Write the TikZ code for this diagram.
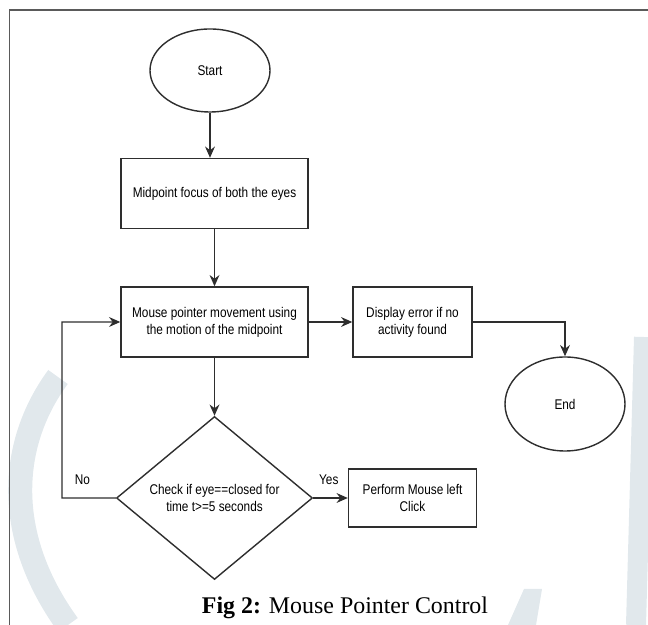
\documentclass[tikz,border=0pt]{standalone}
\usepackage{fontspec}
\setmainfont{Liberation Serif}
\newfontfamily\chartfont{Liberation Sans}[FakeStretch=0.84]
\usetikzlibrary{shapes.geometric,arrows.meta}

\definecolor{linegray}{HTML}{2E2E2E}
\definecolor{framegray}{HTML}{5A5A5A}
\definecolor{markgray}{HTML}{E1E8EC}

\tikzset{
    terminal/.style={ellipse, draw=linegray, line width=1pt, minimum width=3cm, inner sep=0pt, font=\chartfont\fontsize{10}{12}\selectfont},
    process/.style={rectangle, draw=linegray, line width=1pt, align=center, minimum height=1.75cm, inner sep=2pt, font=\chartfont\fontsize{10}{12}\selectfont},
    decision/.style={diamond, draw=linegray, line width=1pt, align=center, aspect=1.2, minimum width=4.9cm, minimum height=4.075cm, inner sep=0pt, font=\chartfont\fontsize{10}{12}\selectfont},
    flow/.style={draw=linegray, line width=1pt, -{Stealth[length=8pt,width=7pt]}},
    label/.style={font=\chartfont\fontsize{10}{12}\selectfont}
}

\begin{document}
\begin{tikzpicture}[node distance=2cm]
                \useasboundingbox (0,0) rectangle (16.2,15.625);

                % Watermark
                \draw[markgray, line width=0.6cm] (1.45,6.2) .. controls (0.2,4.5) and (0.1,2.2) .. (1.7,0);
                \draw[markgray, line width=0.5cm] (16.1,7.2) -- (15.9,0);
                \fill[markgray] (12.7,0) -- (13.1,0.9) -- (13.55,0.9) -- (13.4,0) -- cycle;

                % Frame
                \draw[framegray, line width=0.8pt] (0.2375,0) -- (0.2375,15.375) -- (16.2,15.375);

                % Nodes
                \node[terminal, minimum height=2.075cm] (start) at (5.25,13.8625) {Start};
                \node[process, minimum width=4.675cm] (focus) at (5.3625,10.7875) {Midpoint focus of both the eyes};
                \node[process, minimum width=4.675cm, below of=focus, node distance=3.2125cm] (mouse) {Mouse pointer movement using\\the motion of the midpoint};
                \node[process, minimum width=2.975cm, right of=mouse, node distance=4.95cm] (display) {Display error if no\\activity found};
                \node[terminal, minimum height=2.35cm] (end) at (14.125,5.525) {End};
                \node[decision, below of=mouse, node distance=4.4cm] (check) {Check if eye==closed for\\time t>=5 seconds};
                \node[process, minimum width=3.2cm, minimum height=1.45cm, right of=check, node distance=4.95cm] (click) {Perform Mouse left\\Click};
                \coordinate (loop) at (1.55,3.175);
                \node[anchor=base, font=\fontsize{17}{20}\selectfont] (caption) at (8.625,0.275) {\textbf{Fig 2:} Mouse Pointer Control};

                % Arrows
                \draw[flow] (start) -- (start |- focus.north);
                \draw[flow] (focus) -- (mouse);
                \draw[flow] (mouse) -- (display);
                \draw[flow] (display) -| (end);
                \draw[flow] (mouse) -- (check);
                \draw[flow] (check) -- node[label, pos=0.45, above=0.2cm] {Yes} (click);
                \draw[flow] (check.west) -- node[label, pos=0.62, above=0.2cm] {No} (loop) |- (mouse.west);
        \end{tikzpicture}
\end{document}
